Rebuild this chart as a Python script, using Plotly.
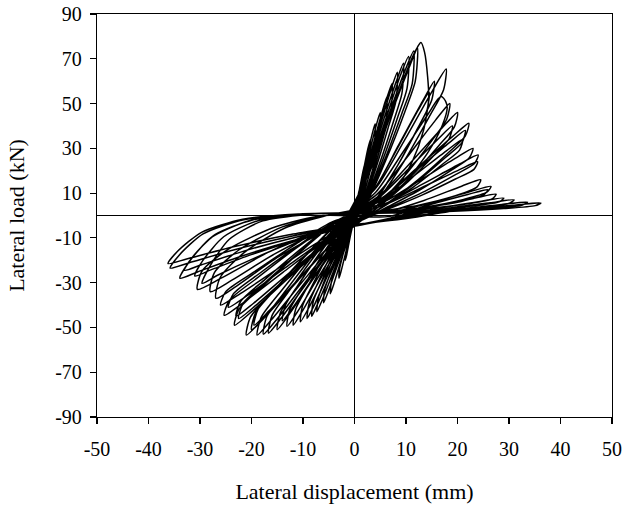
import plotly.graph_objects as go

# Each cycle: positive half-loop then negative half-loop (displacement in mm, load in kN)
disp_cycles = [
    [0.25, 0.55, 0.85, 1, 0.97, 0.8, 0.5, 0.2, -0.22, -0.55, -0.85, -1, -0.96, -0.75, -0.45, -0.15],
    [0.5, 1.1, 1.7, 2, 1.94, 1.6, 1, 0.4, -0.4, -1, -1.5, -1.8, -1.7, -1.35, -0.8, -0.3],
    [0.8, 1.7, 2.6, 3.1, 3, 2.5, 1.55, 0.6, -0.7, -1.65, -2.55, -3, -2.9, -2.25, -1.35, -0.45],
    [1, 2.2, 3.4, 4, 3.9, 3.2, 2, 0.8, -1, -2.6, -4, -4.7, -4.5, -3.5, -2.1, -0.7],
    [1.25, 2.75, 4.25, 5, 4.85, 4, 2.5, 1, -1.3, -3.3, -5.1, -6, -5.8, -4.5, -2.7, -0.9],
    [1.6, 3.5, 5.4, 6.3, 6.1, 5, 3.15, 1.3, -1.6, -4, -6.2, -7.3, -7, -5.5, -3.3, -1.1],
    [1.8, 4, 6.2, 7.3, 7.1, 5.8, 3.65, 1.5, -1.8, -4.6, -7.1, -8.3, -8, -6.2, -3.7, -1.2],
    [2.1, 4.6, 7.1, 8.3, 8.05, 6.6, 4.15, 1.7, -2, -5.1, -7.8, -9.2, -8.8, -6.9, -4.1, -1.4],
    [2.4, 5.2, 8.1, 9.5, 9.2, 7.6, 4.75, 1.9, -2.3, -5.8, -8.9, -10.5, -10.1, -7.9, -4.7, -1.6],
    [2.6, 5.8, 8.9, 10.5, 10.2, 8.4, 5.25, 2.1, -2.6, -6.5, -10.1, -11.9, -11.4, -8.9, -5.4, -1.8],
    [2.9, 6.3, 9.8, 11.5, 11.2, 9.2, 5.75, 2.3, -2.9, -7.2, -11.1, -13.1, -12.6, -9.8, -5.9, -2],
    [3.05, 6.7, 10.4, 12.2, 11.8, 9.8, 6.1, 2.4, -3.3, -8.25, -12.75, -15, -14.4, -11.25, -6.75, -2.25],
    [3.2, 7, 10.9, 12.3, 12.9, 13.6, 14.2, 14.4, 13.4, 11.2, 7.5, 3, -3.7, -9.2, -14.2, -16.7, -16, -12.5, -7.5, -2.5],
    [3.9, 8.5, 13.2, 15.5, 15, 12.7, 8.5, 3.9, -4.2, -10.4, -16.1, -18.9, -18.1, -14.2, -8.5, -2.8],
    [3.6, 8, 12.3, 14.5, 14.1, 11.9, 8, 3.6, -3.1, -7.7, -11.9, -14, -13.4, -10.5, -6.3, -2.1],
    [4.45, 9.8, 15.1, 17.8, 17.3, 14.6, 9.8, 4.45, -3.9, -9.7, -15, -17.7, -17, -13.3, -8, -2.7],
    [4.2, 9.2, 14.2, 16.2, 16.9, 17.7, 18, 17, 14.2, 9.2, 4.2, -4.6, -11.55, -17.85, -21, -20.2, -15.75, -9.45, -3.15],
    [5, 11, 17, 20, 19.4, 16.4, 11, 5, -4.4, -11, -17, -20, -19.2, -15, -9, -3],
    [4.6, 10.2, 15.7, 18.5, 17.9, 15.2, 10.2, 4.6, -4.3, -10.7, -16.6, -19.5, -18.7, -14.6, -8.8, -2.9],
    [4.75, 10.45, 16.15, 19, 18.4, 15.6, 10.45, 4.75, -5.1, -12.8, -19.8, -23.3, -22.4, -17.5, -10.5, -3.5],
    [5.55, 12.2, 18.9, 22.2, 21.5, 18.2, 12.2, 5.55, -5, -12.4, -19.1, -22.5, -21.6, -16.9, -10.1, -3.4],
    [5.25, 11.55, 17.85, 21, 20.4, 17.2, 11.55, 5.25, -5.6, -13.9, -21.5, -25.3, -24.3, -19, -11.4, -3.8],
    [5.4, 11.8, 18.3, 21.5, 20.9, 17.6, 11.8, 5.4, -5.1, -12.7, -19.6, -23, -22.1, -17.3, -10.4, -3.5],
    [5.75, 12.65, 19.55, 23, 22.3, 18.9, 12.65, 5.75, -5.4, -13.5, -20.8, -24.5, -23.5, -18.4, -11, -3.7],
    [6, 13.1, 20.3, 23.9, 23.2, 19.6, 13.1, 6, -5.9, -14.8, -22.9, -26.9, -26.1, -21.5, -13.5, -5.4],
    [6, 13.2, 20.4, 24, 23.3, 19.7, 13.2, 6, -5.7, -14.3, -22.1, -26, -25, -19.5, -11.7, -3.9],
    [6.1, 13.5, 20.8, 24.5, 23.8, 19.6, 12.25, 4.9, -6.2, -15.4, -23.8, -28, -27.2, -22.4, -14, -5.6],
    [6.6, 14.6, 22.5, 26.5, 25.7, 21.2, 13.3, 5.3, -6.7, -16.8, -25.9, -30.5, -29.6, -24.4, -15.3, -6.1],
    [6.5, 14.2, 22, 25.9, 25.1, 20.7, 13, 5.2, -8.9, -17.8, -24.3, -28.1, -29.6, -26.6, -19.2, -10.4, -1.5],
    [6.9, 15.1, 23.4, 27.5, 26.7, 22, 13.75, 5.5, -9.3, -18.6, -25.4, -29.5, -31, -27.9, -20.2, -10.9, -1.6],
    [7.25, 15.95, 24.65, 29, 28.1, 23.2, 14.5, 5.8, -10.2, -20.3, -27.8, -32.2, -33.9, -30.5, -22, -11.9, -1.7],
    [7.75, 17.05, 26.35, 31, 30.1, 24.8, 15.5, 6.2, -9.9, -19.8, -27.1, -31.4, -33, -29.7, -21.5, -11.6, -1.7],
    [8.4, 18.5, 28.6, 33.6, 32.6, 26.9, 16.8, 6.7, -10.7, -21.5, -29.4, -34, -35.8, -32.2, -23.3, -12.5, -1.8],
    [9, 19.9, 30.8, 36.2, 35.1, 29, 18.1, 7.2, -10.9, -21.7, -29.7, -34.4, -36.2, -32.6, -23.5, -12.7, -1.8, 0],
]

load_cycles = [
    [3.2, 7, 10.6, 12, 9.6, 7.4, 4, 1, -2.5, -5.7, -8.7, -10, -8.5, -6.3, -3.3, -0.6],
    [6.2, 13.3, 20.2, 23, 18.4, 14.3, 7.6, 1.8, -5, -11.4, -17.4, -20, -17, -12.6, -6.6, -1.2],
    [9.2, 19.7, 29.9, 34, 27.2, 21.1, 11.2, 2.7, -7, -16, -24.4, -28, -23.8, -17.6, -9.2, -1.7],
    [11.1, 23.8, 36.1, 41, 32.8, 25.4, 13.5, 3.3, -8.8, -20, -30.5, -35, -29.8, -22, -11.6, -2.1],
    [12.4, 26.7, 40.5, 46, 36.8, 28.5, 15.2, 3.7, -9.8, -22.2, -33.9, -39, -33.2, -24.6, -12.9, -2.3],
    [14.3, 30.7, 46.6, 53, 42.4, 32.9, 17.5, 4.2, -10.8, -24.5, -37.4, -43, -36.6, -27.1, -14.2, -2.6],
    [15.9, 34.2, 51.9, 59, 47.2, 36.6, 19.5, 4.7, -11.3, -25.7, -39.2, -45, -38.3, -28.4, -14.9, -2.7],
    [17.3, 37.1, 56.3, 64, 51.2, 39.7, 21.1, 5.1, -11.5, -26.2, -40, -46, -39.1, -29, -15.2, -2.8],
    [18.4, 39.4, 59.8, 68, 54.4, 42.2, 22.4, 5.4, -11.9, -27.1, -41.3, -47.5, -40.4, -29.9, -15.7, -2.9],
    [19.2, 41.2, 62.5, 71, 56.8, 44, 23.4, 5.7, -12.3, -27.9, -42.6, -49, -41.7, -30.9, -16.2, -2.9],
    [19.8, 42.6, 64.7, 73.5, 58.8, 45.6, 24.3, 5.9, -12.4, -28.2, -43.1, -49.5, -42.1, -31.2, -16.3, -3],
    [20.3, 43.5, 66, 75, 60, 46.5, 24.8, 6, -12.8, -29.1, -44.4, -51, -43.4, -32.1, -16.8, -3.1],
    [20.8, 44.7, 67.8, 75.5, 77.3, 73, 62, 52, 38, 24, 10, 2, -13.1, -29.9, -45.7, -52.5, -44.6, -33.1, -17.3, -3.2],
    [12, 31.2, 51, 60, 51.6, 40.8, 22.8, 6, -13.4, -30.4, -46.5, -53.4, -45.4, -33.6, -17.6, -3.2],
    [11, 28.6, 46.8, 55, 47.3, 37.4, 20.9, 5.5, -11.8, -26.8, -40.9, -47, -40, -29.6, -15.5, -2.8],
    [13.1, 34, 55.6, 65.4, 56.2, 44.5, 24.9, 6.5, -13.3, -30.2, -46.1, -53, -45, -33.4, -17.5, -3.2],
    [10.6, 27.6, 45, 52, 53.2, 51, 48, 40, 28, 13, 3, -13.4, -30.4, -46.5, -53.4, -45.4, -33.6, -17.6, -3.2],
    [9.2, 23.9, 39.1, 46, 39.6, 31.3, 17.5, 4.6, -12.8, -29.1, -44.4, -51, -43.4, -32.1, -16.8, -3.1],
    [10, 26, 42.5, 50, 43, 34, 19, 5, -12.3, -27.9, -42.6, -49, -41.7, -30.9, -16.2, -2.9],
    [8, 20.8, 34, 40, 34.4, 27.2, 15.2, 4, -12.3, -27.9, -42.6, -49, -41.7, -30.9, -16.2, -2.9],
    [8.2, 21.4, 35, 41.2, 35.4, 28, 15.7, 4.1, -11.5, -26.2, -40, -46, -39.1, -29, -15.2, -2.8],
    [6.8, 17.7, 28.9, 34, 29.2, 23.1, 12.9, 3.4, -11.2, -25.4, -38.8, -44.6, -37.9, -28.1, -14.7, -2.7],
    [7.6, 19.8, 32.3, 38, 32.7, 25.8, 14.4, 3.8, -11.3, -25.7, -39.2, -45, -38.3, -28.4, -14.9, -2.7],
    [6, 15.6, 25.5, 30, 25.8, 20.4, 11.4, 3, -10.3, -23.4, -35.7, -41, -34.9, -25.8, -13.5, -2.5],
    [4.8, 12.5, 20.4, 24, 20.6, 16.3, 9.1, 2.4, -7.4, -18.5, -31.5, -37, -27.8, -16.7, -5.6, 0],
    [5.4, 14, 23, 27, 23.2, 18.4, 10.3, 2.7, -10, -22.8, -34.8, -40, -34, -25.2, -13.2, -2.4],
    [1.6, 6.7, 13.1, 16, 12.8, 8.8, 4.5, 1.6, -6.8, -17, -28.9, -34, -25.5, -15.3, -5.1, 0],
    [1.3, 5.5, 10.7, 13, 10.4, 7.2, 3.6, 1.3, -6.6, -16.5, -28, -33, -24.8, -14.9, -5, 0],
    [-0.5, 4.6, 9.4, 11.5, 9.2, 6.3, 3.5, 1.7, 0.5, -2.4, -10.6, -22.7, -30.3, -26.7, -18.8, -10.6, -5.2],
    [-1.2, 3.8, 7.8, 9.5, 7.4, 5.2, 3, 1.9, 0.5, -2.2, -9.5, -20.3, -27, -24.3, -17.6, -10.8, -5.4],
    [-1.4, 3.1, 6.4, 7.8, 6.1, 4.3, 2.5, 1.6, 0.6, -2.2, -9.8, -21, -28, -25.2, -18.2, -11.2, -5.6],
    [-1.5, 2.8, 5.7, 7, 5.5, 3.9, 2.3, 1.5, 0.6, -2, -8.6, -18.4, -24.5, -22, -15.9, -9.8, -4.9],
    [-1.6, 2.4, 4.9, 6, 4.7, 3.3, 1.9, 1.2, 0.7, -1.9, -8.2, -17.6, -23.5, -21.2, -15.3, -9.4, -4.7],
    [-1.7, 2.2, 4.6, 5.6, 4.4, 3.1, 1.8, 1.1, 0.7, -1.7, -7.5, -16.1, -21.5, -19.4, -14, -8.6, -4.3, -3],
]

x_ticks = [-50, -40, -30, -20, -10, 0, 10, 20, 30, 40, 50]
y_ticks = [-90, -70, -50, -30, -10, 10, 30, 50, 70, 90]

xs = [0]
ys = [0]
for dx, dy in zip(disp_cycles, load_cycles):
    xs.extend(dx)
    ys.extend(dy)

fig = go.Figure()
fig.add_trace(go.Scatter(
    x=xs, y=ys, mode="lines",
    line=dict(color="black", width=1.5, shape="spline", smoothing=0.7),
    hoverinfo="skip", showlegend=False,
))

tick_font = dict(family="Liberation Serif, Times New Roman, serif", size=20, color="black")
title_font = dict(family="Liberation Serif, Times New Roman, serif", size=22, color="black")

fig.update_layout(
    width=624, height=508,
    margin=dict(l=97, r=12, t=14, b=91),
    paper_bgcolor="white", plot_bgcolor="white",
    font=tick_font,
    showlegend=False,
)
fig.update_xaxes(
    range=[-50, 50], tickvals=x_ticks, ticktext=[str(v) for v in x_ticks],
    automargin=False, tickfont=tick_font, ticklabeloverflow="allow",
    showgrid=False, zeroline=True, zerolinecolor="black", zerolinewidth=1.2,
    showline=True, linecolor="black", linewidth=1.2, mirror=True,
    ticks="outside", ticklen=6, tickcolor="black", tickwidth=1.2,
    ticklabelstandoff=8,
    title=dict(text="Lateral displacement (mm)", font=title_font, standoff=24),
)
fig.update_yaxes(
    range=[-90, 90], tickvals=y_ticks, ticktext=[str(v) for v in y_ticks],
    automargin=False, tickfont=tick_font, ticklabeloverflow="allow",
    showgrid=False, zeroline=True, zerolinecolor="black", zerolinewidth=1.2,
    showline=True, linecolor="black", linewidth=1.2, mirror=True,
    ticks="outside", ticklen=6, tickcolor="black", tickwidth=1.2,
    ticklabelstandoff=4,
    title=dict(text="Lateral load (kN)", font=title_font, standoff=24),
)

# remove the browser's default 8 px page margin so the figure sits at the window origin
fig.write_html(
    "out.html",
    config={"displayModeBar": False, "staticPlot": True},
    post_script="document.body.style.margin='0';",
)
